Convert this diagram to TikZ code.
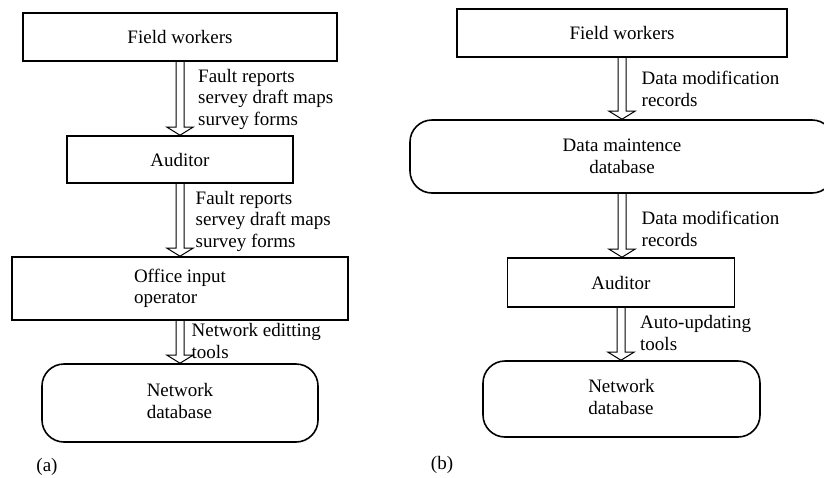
\documentclass[tikz,border=0pt]{standalone}
\usepackage{fontspec}
\setmainfont{Liberation Serif}
\usepackage{tikz}
\usetikzlibrary{calc}
\tikzstyle{box} = [draw, line width=1.6pt, inner sep=0pt, align=center]
\tikzstyle{dbase} = [box, rounded corners=22pt]
\tikzstyle{lbl} = [anchor=west, inner sep=0pt, align=left]
\tikzstyle{fat} = [line width=1pt, line join=miter, to path={
    let \p1=(\tikztostart), \p2=(\tikztotarget) in
    (\x1-4pt,\y1) -- (\x1-4pt,\y2+8pt) -- (\x1-13pt,\y2+8pt) -- (\x1,\y2)
    -- (\x1+13pt,\y2+8pt) -- (\x1+4pt,\y2+8pt) -- (\x1+4pt,\y1)}]

\begin{document}
\begin{tikzpicture}[
                x=1pt, y=-1pt,
                every node/.style={font=\fontsize{19}{21.5}\selectfont}
            ]
                \clip (0,0) rectangle (824,477);

                % (a)
                \node[box, minimum width=314, minimum height=48] (fw1) at (180,37) {Field workers};
                \node[box, minimum width=226, minimum height=47] (aud1) at (180,159.5) {Auditor};
                \node[box, minimum width=336, minimum height=63] (off1) at (180,288.5) {\begin{tabular}{@{}l@{}}Office input\\operator\end{tabular}};
                \node[dbase, minimum width=276, minimum height=78] (net1) at (180,403) {\begin{tabular}{@{}l@{}}Network\\database\end{tabular}};
                \node (capa) at (47,467) {(a)};

                \draw[fat] (fw1.south) to (aud1.north);
                \draw[fat] (aud1.south) to (off1.north);
                \draw[fat] (off1.south) to (net1.north);

                \node[lbl] (la1) at (198,99) {Fault reports\\servey draft maps\\survey forms};
                \node[lbl] (la2) at (195.5,221) {Fault reports\\servey draft maps\\survey forms};
                \node[lbl] (la3) at (191.5,341) {Network editting\\tools};

                % (b)
                \node[box, minimum width=330, minimum height=48] (fw2) at (622,33) {Field workers};
                \node[dbase, minimum width=424, minimum height=73] (dm2) at (622,156.5) {Data maintence\\database};
                \node[box, minimum width=227, minimum height=49] (aud2) at (621,282.5) {Auditor};
                \node[dbase, minimum width=277, minimum height=76] (net2) at (621.5,399) {\begin{tabular}{@{}l@{}}Network\\database\end{tabular}};
                \node (capb) at (442,465) {(b)};

                \draw[fat] (fw2.south) to (dm2.north);
                \draw[fat] (dm2.south) to (aud2.north);
                \draw[fat] (aud2.south) to (net2.north);

                \node[lbl] (lb1) at (641.5,89) {Data modification\\records};
                \node[lbl] (lb2) at (641.5,229) {Data modification\\records};
                \node[lbl] (lb3) at (640,333) {Auto-updating\\tools};
            \end{tikzpicture}
\end{document}
